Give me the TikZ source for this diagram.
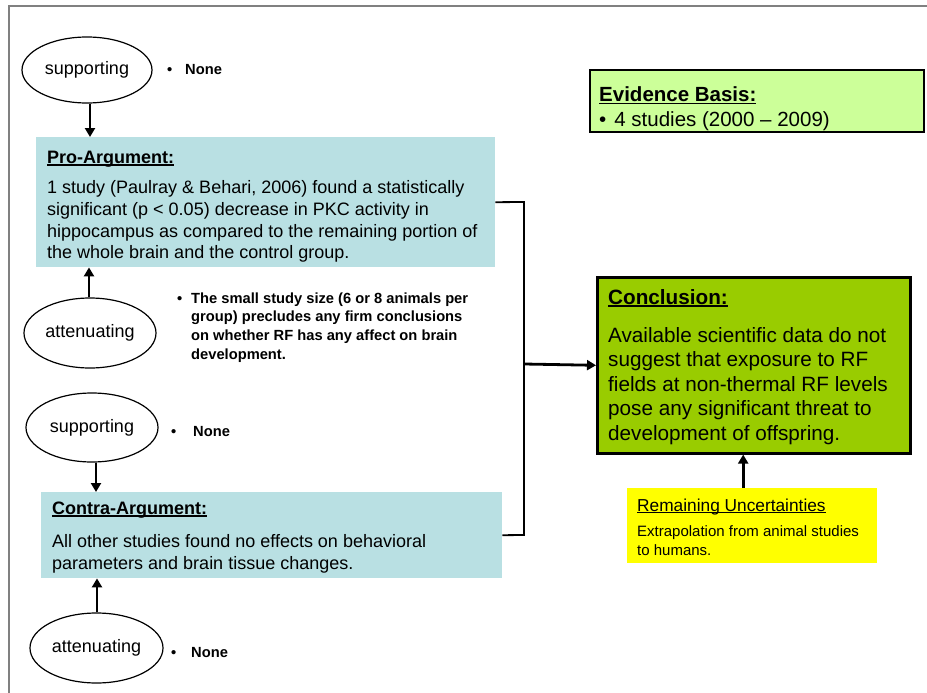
\documentclass[tikz,border=0pt]{standalone}
\usepackage{fontspec}
\setmainfont{Liberation Sans}
\usetikzlibrary{shapes.geometric,arrows.meta}
\definecolor{argblue}{HTML}{B9E0E3}
\definecolor{evgreen}{HTML}{CCFF99}
\definecolor{congreen}{HTML}{99CC00}
\definecolor{remyellow}{HTML}{FFFF00}
\definecolor{framegray}{HTML}{808080}
\newcommand\myul[2][2.5pt]{\setbox0\hbox{#2}\rlap{\rule[-#1]{\wd0}{1.1pt}}\box0}
\begin{document}
\begin{tikzpicture}[x=1pt,y=-1pt,
  oval/.style={ellipse, draw, line width=1.2pt, inner sep=0pt, font=\fontsize{18}{22}\selectfont},
  box/.style={rectangle, anchor=north west, inner sep=0pt},
  txt/.style={anchor=base west, inner sep=0pt},
  arr/.style={line width=2.8pt, -{Triangle[length=9pt,width=10pt]}},
  conn/.style={line width=1.8pt},
  small/.style={font=\fontsize{14.7}{18.7}\selectfont\bfseries}
]
\useasboundingbox (0,0) rectangle (927,693);
\fill[white] (0,0) rectangle (927,693);
% frame
\draw[framegray, line width=2pt] (8,6) -- (927,6);
\draw[framegray, line width=1.5pt] (9,6) -- (9,693);

% boxes
\node[box, fill=argblue, minimum width=459pt, minimum height=130pt] (pro) at (36,137) {};
\node[box, fill=argblue, minimum width=461pt, minimum height=86pt] (contra) at (41,492) {};
\node[box, fill=evgreen, draw, line width=1.8pt, minimum width=334pt, minimum height=62pt] (evid) at (589,69) {};
\node[box, fill=congreen, draw, line width=2.6pt, minimum width=313pt, minimum height=176pt] (concl) at (596,276) {};
\node[box, fill=remyellow, minimum width=250pt, minimum height=75pt] (rem) at (627,488) {};

% ellipses
\node[oval, minimum width=130pt, minimum height=66pt] (sup1) at (87,70) {supporting};
\node[oval, minimum width=132pt, minimum height=70pt] (att1) at (90,333) {attenuating};
\node[oval, minimum width=132pt, minimum height=69pt] (sup2) at (92,427.5) {supporting};
\node[oval, minimum width=133pt, minimum height=70pt] (att2) at (96.5,648) {attenuating};

% texts in pro box
\node[txt, font=\fontsize{18}{22}\selectfont\bfseries] (proh) at (47,163) {\myul{Pro-Argument:}};
\node[txt] (prob) at (47,193) {\parbox[t]{445pt}{\fontsize{18}{22}\selectfont\raggedright
1 study (Paulray \& Behari, 2006) found a statistically\\
significant (p < 0.05) decrease in PKC activity in\\
hippocampus as compared to the remaining portion of\\
the whole brain and the control group.}};

% contra
\node[txt, font=\fontsize{18}{22}\selectfont\bfseries] (conh) at (52,514) {\myul{Contra-Argument:}};
\node[txt] (conb) at (52,547) {\parbox[t]{445pt}{\fontsize{18}{22}\selectfont\raggedright
All other studies found no effects on behavioral\\
parameters and brain tissue changes.}};

% evidence
\node[txt, font=\fontsize{20.5}{24}\selectfont\bfseries] (evh) at (599,102) {\myul{Evidence Basis:}};
\node[txt, font=\fontsize{20.5}{24}\selectfont] (evb) at (599,126) {•\hspace{8pt}4 studies (2000 – 2009)};

% conclusion
\node[txt, font=\fontsize{20.7}{24.5}\selectfont\bfseries] (coh) at (608,304) {\myul{Conclusion:}};
\node[txt] (cob) at (608,342) {\parbox[t]{300pt}{\fontsize{20.7}{24.5}\selectfont\raggedright
Available scientific data do not\\
suggest that exposure to RF\\
fields at non-thermal RF levels\\
pose any significant threat to\\
development of offspring.}};

% remaining
\node[txt, font=\fontsize{17.3}{20}\selectfont] (remh) at (637,511) {\myul[2.2pt]{Remaining Uncertainties}};
\node[txt] (remb) at (637,536) {\parbox[t]{240pt}{\fontsize{15}{19}\selectfont\raggedright
Extrapolation from animal studies\\
to humans.}};

% side notes
\node[txt, small] (b1) at (167,75) {•};
\node[txt, small] (n1) at (185,75) {None};
\node[txt, small] (b2) at (177,303) {•};
\node[txt] (n2) at (191,303) {\parbox[t]{300pt}{\fontsize{14.7}{18.7}\selectfont\bfseries\raggedright
The small study size (6 or 8 animals per\\
group) precludes any firm conclusions\\
on whether RF has any affect on brain\\
development.}};
\node[txt, small] (b3) at (171,436) {•};
\node[txt, small] (n3) at (193,436) {None};
\node[txt, small] (b4) at (171,657) {•};
\node[txt, small] (n4) at (191,657) {None};

% arrows
\draw[arr] ([xshift=3pt]sup1.south) -- ([xshift=3pt]sup1.south |- pro.north);
\draw[arr] ([xshift=-1pt]att1.north) -- ([xshift=-1pt]att1.north |- pro.south);
\draw[arr] ([xshift=4pt]sup2.south) -- ([xshift=4pt]sup2.south |- contra.north);
\draw[arr] ([xshift=0.5pt]att2.north) -- ([xshift=0.5pt]att2.north |- contra.south);

\coordinate (jt) at (524,202);
\coordinate (jb) at (524,535);
\coordinate (jm) at (524,364);
\draw[conn] (pro.east) -- (jt) -- (jb) -- (contra.east);
\draw[arr] (jm) -- (concl.west);
\draw[arr] ([xshift=-9pt]rem.north) -- ([xshift=-9pt]rem.north |- concl.south);
\end{tikzpicture}
\end{document}
